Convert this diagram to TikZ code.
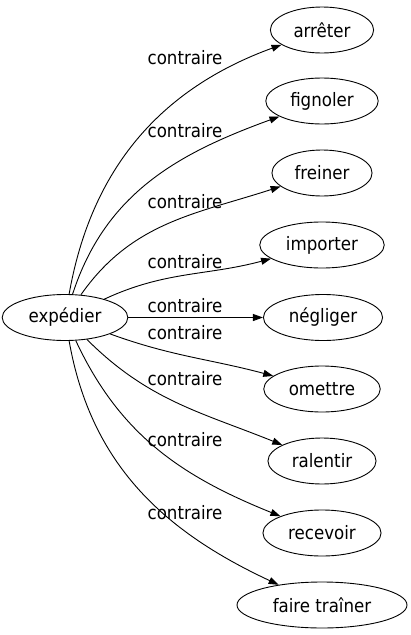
\documentclass[tikz,border=0pt]{standalone}
\usepackage{fontspec}
\setmainfont{DejaVu Sans Condensed}
\usetikzlibrary{arrows.meta, shapes.geometric}

\begin{document}
\begin{tikzpicture}[
        x = 1pt, y = 1pt,
        >= {Triangle[length = 10pt, width = 7pt]},
        every path/.style = {line width = 0.9pt},
        mot/.style = {draw, ellipse, inner xsep = 8pt, minimum height = 46pt,
                      font = \fontsize{18.5}{21}\selectfont},
        rel/.style = {font = \fontsize{18.5}{21}\selectfont}
    ]
      \useasboundingbox (0,0) rectangle (411,-635);

      \node[mot] (exp) at (65,-317.5) {expédier};
      \node[mot] (arr) at (322,-30)    {arrêter};
      \node[mot] (fig) at (322,-101)   {fignoler};
      \node[mot] (fre) at (322,-173)   {freiner};
      \node[mot] (imp) at (322,-245)   {importer};
      \node[mot] (neg) at (323,-317.5) {négliger};
      \node[mot] (ome) at (322,-389)   {omettre};
      \node[mot] (ral) at (322,-461)   {ralentir};
      \node[mot] (rec) at (322,-533)   {recevoir};
      \node[mot, minimum width = 170pt] (fai) at (322,-605) {faire traîner};

      \path[->]
        (exp) edge [out = 80, in = 200]  (arr)
        (exp) edge [out = 72, in = 200]  (fig)
        (exp) edge [out = 55, in = 198]  (fre)
        (exp) edge [out = 25, in = 195]  (imp)
        (exp) edge                       (neg)
        (exp) edge [out = -20, in = 165] (ome)
        (exp) edge [out = -45, in = 158] (ral)
        (exp) edge [out = -65, in = 158] (rec)
        (exp) edge [out = -80, in = 155] (fai);

      \foreach \y/\n in {58/a, 131/b, 202/c, 262/d, 306/e, 333/f, 379/g, 440/h, 513/i}
        \node[rel] (lbl-\n) at (185,-\y) {contraire};
    \end{tikzpicture}
\end{document}
